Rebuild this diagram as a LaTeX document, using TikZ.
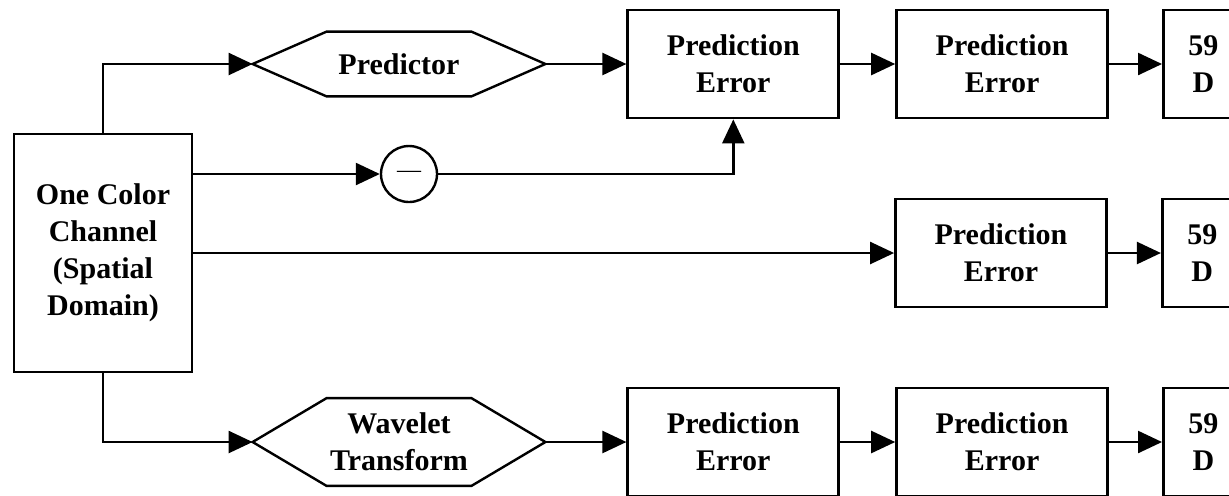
\documentclass[tikz,border=0pt]{standalone}
\usepackage{fontspec}
\setmainfont{Liberation Serif}
\usetikzlibrary{arrows.meta, positioning}

% outline of a flat hexagon round a (borderless) node
\newcommand{\hexoutline}[1]{%
  \draw[line width=1.2pt] (#1.west) -- ([xshift=37pt]#1.north west)
    -- ([xshift=-37pt]#1.north east) -- (#1.east)
    -- ([xshift=-37pt]#1.south east) -- ([xshift=37pt]#1.south west) -- cycle;}

\begin{document}
\begin{tikzpicture}[
    x=0.5pt, y=-0.5pt,
    block/.style = {
        rectangle,
        draw=black,
        line width=1.4pt,
        minimum width=105.5pt,
        minimum height=54pt,
        align=center,
        font=\bfseries\fontsize{15}{18.5}\selectfont,
        inner sep=2pt
    },
    tail box/.style = {block, minimum width=40pt},
    hex node/.style = {
        minimum width=146pt,
        minimum height=#1,
        align=center,
        font=\bfseries\fontsize{15}{18.5}\selectfont,
        inner sep=0pt
    },
    sign/.style = {circle, draw=black, line width=1.2pt, minimum size=28pt, inner sep=0pt, font=\fontsize{12}{14}\selectfont},
    flow/.style = {-{Triangle[length=12pt, width=11pt]}, line width=1.2pt}
]
\useasboundingbox (0,0) rectangle (1229,495);
\clip (0,0) rectangle (1229,495);

% source
\node [block, minimum width=89pt, minimum height=119pt] (src) at (103,253) {One Color\\Channel\\(Spatial\\Domain)};

% top row
\node [hex node=32pt] (pred) at (399,64) {Predictor};
\hexoutline{pred}
\node [block, right=40.5pt of pred] (err1) {Prediction\\Error};
\node [block, right=27.5pt of err1] (err2) {Prediction\\Error};
\node [tail box, right=26.5pt of err2] (out1) {59\\D};
\node [sign] (minus) at (409,174) {\textemdash};

% middle row
\node [block] (err3) at (1001,253) {Prediction\\Error};
\node [tail box, right=26.5pt of err3] (out2) {59\\D};

% bottom row
\node [hex node=43.5pt] (wave) at (399,442) {Wavelet\\Transform};
\hexoutline{wave}
\node [block, right=40.5pt of wave] (err4) {Prediction\\Error};
\node [block, right=27.5pt of err4] (err5) {Prediction\\Error};
\node [tail box, right=26.5pt of err5] (out3) {59\\D};

\draw [flow] (src.north) |- (pred.west);
\draw [flow] (pred.east) -- (err1.west);
\draw [flow] (err1.east) -- (err2.west);
\draw [flow] (err2.east) -- (out1.west);

\draw [flow] (src.east |- minus.west) -- (minus.west);
\draw [flow] (minus.east) -| (err1.south);

\draw [flow] (src.east) -- (err3.west);
\draw [flow] (err3.east) -- (out2.west);

\draw [flow] (src.south) |- (wave.west);
\draw [flow] (wave.east) -- (err4.west);
\draw [flow] (err4.east) -- (err5.west);
\draw [flow] (err5.east) -- (out3.west);

\end{tikzpicture}
\end{document}
